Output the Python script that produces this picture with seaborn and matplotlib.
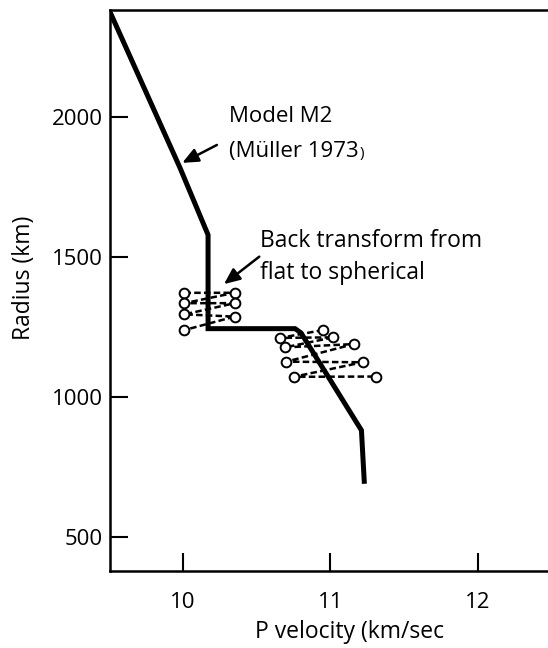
import matplotlib
matplotlib.use("Agg")
import matplotlib.pyplot as plt
import seaborn as sns
import pandas as pd

# Model M2 velocity profile (P velocity km/s vs radius km)
model_velocity = [9.50, 9.98, 10.17, 10.17, 10.76, 10.80, 11.21, 11.23]
model_radius = [2380, 1817, 1578, 1243, 1243, 1228, 880, 689]

# Back-transformed points, upper group (zig-zag order)
upper_velocity = [10.01, 10.35, 10.01, 10.35, 10.01, 10.35, 10.01]
upper_radius = [1371, 1371, 1334, 1334, 1294, 1286, 1238]

# Back-transformed points, lower group (zig-zag order)
lower_velocity = [10.95, 10.66, 11.02, 10.69, 11.16, 10.70, 11.22, 10.75, 11.31]
lower_radius = [1238, 1210, 1212, 1176, 1188, 1125, 1123, 1071, 1072]

x_ticks = [10, 11, 12]
y_ticks = [500, 1000, 1500, 2000]

sns.set_theme(style="white")
plt.rcParams["font.family"] = ["Open Sans", "DejaVu Sans"]
plt.rcParams["text.color"] = "black"
plt.rcParams["axes.labelcolor"] = "black"

fig = plt.figure(figsize=(5.48, 6.48), dpi=100)
ax = fig.add_axes([0.2007, 0.1188, 0.7993, 0.8658])

model_df = pd.DataFrame({"v": model_velocity, "r": model_radius})
upper_df = pd.DataFrame({"v": upper_velocity, "r": upper_radius})
lower_df = pd.DataFrame({"v": lower_velocity, "r": lower_radius})

for df in (upper_df, lower_df):
    sns.lineplot(data=df, x="v", y="r", sort=False, estimator=None, ax=ax,
                 color="black", linewidth=1.8, linestyle=(0, (2.6, 1.3)),
                 marker="o", markersize=7, markerfacecolor="white",
                 markeredgecolor="black", markeredgewidth=1.4, zorder=3)

sns.lineplot(data=model_df, x="v", y="r", sort=False, estimator=None, ax=ax,
             color="black", linewidth=3.6, zorder=4,
             solid_joinstyle="miter", solid_capstyle="butt")

ax.set_xlim(9.505, 12.475)
ax.set_ylim(377.5, 2381)
ax.set_xticks(x_ticks)
ax.set_yticks(y_ticks)

for side in ("left", "bottom", "top"):
    ax.spines[side].set_visible(True)
    ax.spines[side].set_color("black")
    ax.spines[side].set_linewidth(1.8)
ax.spines["right"].set_visible(False)

ax.tick_params(axis="both", direction="in", length=13, width=1.5,
               colors="black", labelcolor="black", labelsize=16)
ax.tick_params(axis="x", pad=15, bottom=True)
ax.tick_params(axis="y", pad=5, left=True)

ax.set_xlabel("P velocity (km/sec", fontsize=16.5)
ax.set_ylabel("Radius (km)", fontsize=16.5)
ax.xaxis.set_label_coords(0.548, -0.109)
ax.yaxis.set_label_coords(-0.196, 0.522)
ax.xaxis.label.set_va("center")
ax.yaxis.label.set_va("center")

ax.text(10.31, 2000, "Model M2", fontsize=16, va="center", ha="left")
ax.text(10.31, 1874, "(Müller 1973", fontsize=16, va="center", ha="left")
ax.text(11.20, 1867, ")", fontsize=11, va="center", ha="left")

ax.text(10.52, 1555, "Back transform from", fontsize=16.5, va="center", ha="left")
ax.text(10.52, 1440, "flat to spherical", fontsize=16.5, va="center", ha="left")

arrow_style = dict(arrowstyle="-|>,head_length=0.8,head_width=0.35",
                   color="black", lw=1.8, shrinkA=0, shrinkB=0)
ax.annotate("", xy=(9.995, 1835), xytext=(10.23, 1899), arrowprops=arrow_style)
ax.annotate("", xy=(10.278, 1402), xytext=(10.517, 1500), arrowprops=arrow_style)

fig.savefig("out.png", dpi=100)
